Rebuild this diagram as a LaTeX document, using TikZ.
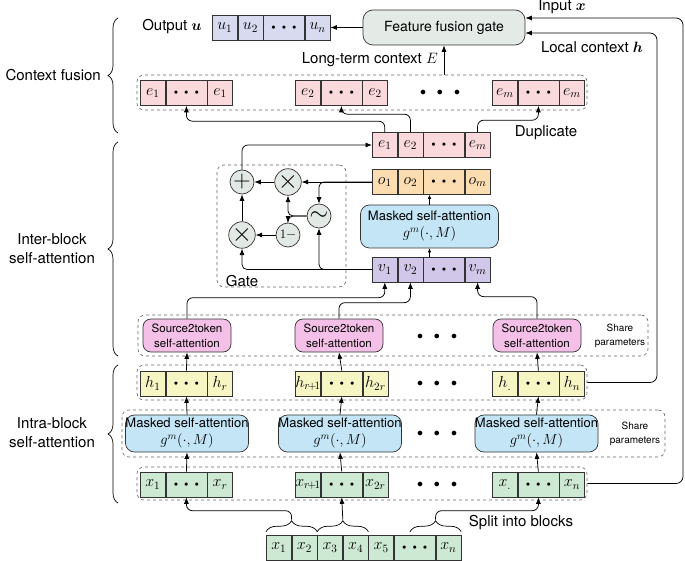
\RequirePackage{fix-cm}
\documentclass[tikz,border=0pt]{standalone}
\usepackage{amsmath}
\usepackage{fontspec}
\setmainfont{TeX Gyre Heros}
\usetikzlibrary{arrows.meta,decorations.pathreplacing,calc}

\definecolor{cU}{HTML}{D8DBF0}
\definecolor{cFG}{HTML}{E4EBE7}
\definecolor{cE}{HTML}{F9D9DC}
\definecolor{cO}{HTML}{FCDDB1}
\definecolor{cB}{HTML}{C3E5F5}
\definecolor{cV}{HTML}{D1C7E8}
\definecolor{cS}{HTML}{F4C0E8}
\definecolor{cH}{HTML}{F6F6C4}
\definecolor{cX}{HTML}{CDE8D3}
\definecolor{cG}{HTML}{E2E9E5}

\newcommand{\lblf}{\fontsize{15}{19}\selectfont}
\newcommand{\mthf}{\fontsize{16}{16}\selectfont}
\newcommand{\sdts}{{\fontsize{7.5}{8}\selectfont$\bullet$\hspace{6pt}$\bullet$\hspace{6pt}$\bullet$}}
\newcommand{\bdts}{{\fontsize{12}{12}\selectfont$\bullet$\hspace{11pt}$\bullet$\hspace{11pt}$\bullet$}}
\newcommand{\gform}{{\fontsize{14.5}{15}\selectfont$g^m(\cdot,M)$}}

\newcommand{\grp}[6]{%
 \node[cell,fill=#4,minimum width=25pt,anchor=west] (#1a) at (#2,#3) {$#5$};
 \node[cell,fill=#4,minimum width=41pt,anchor=west] (#1b) at (#1a.east) {\sdts};
 \node[cell,fill=#4,minimum width=25pt,anchor=west] (#1c) at (#1b.east) {$#6$};}
\newcommand{\frow}[7]{%
 \node[cell,fill=#4,minimum width=25pt,anchor=west] (#11) at (#2,#3) {$#5$};
 \node[cell,fill=#4,minimum width=25pt,anchor=west] (#12) at (#11.east) {$#6$};
 \node[cell,fill=#4,minimum width=41pt,anchor=west] (#13) at (#12.east) {\sdts};
 \node[cell,fill=#4,minimum width=25pt,anchor=west] (#14) at (#13.east) {$#7$};}

\tikzset{
 cell/.style={draw=black!80,line width=0.6pt,minimum height=25pt,inner sep=0pt,font=\mthf},
 arr/.style={-{Latex[length=6.5pt,width=5pt]},line width=0.75pt},
 sarr/.style={-{Latex[length=4pt,width=3.5pt]},line width=0.6pt},
 rc/.style={rounded corners=6pt},
 dbox/.style={draw=black!60,dashed,line width=0.6pt,rounded corners=7pt,inner sep=0pt},
 lbl/.style={font=\lblf,inner sep=0pt,align=center},
 fgate/.style={draw=black!80,fill=cFG,rounded corners=10pt,line width=0.7pt,minimum width=162pt,minimum height=35pt,font=\fontsize{14}{16}\selectfont},
 msab/.style={draw=black!80,fill=cB,rounded corners=9pt,line width=0.7pt,align=center,inner sep=0pt,font=\fontsize{13}{17}\selectfont},
 s2t/.style={draw=black!80,fill=cS,rounded corners=8pt,line width=0.7pt,align=center,inner sep=0pt,minimum width=88pt,minimum height=33pt,font=\fontsize{11.5}{15}\selectfont},
 shp/.style={align=center,inner sep=0pt,font=\fontsize{10}{14}\selectfont},
 gcirc/.style={circle,draw=black!80,fill=cG,minimum size=24pt,inner sep=0pt,line width=0.7pt},
 brc/.style={decorate,decoration={brace,amplitude=10pt},line width=0.7pt},
 bbrc/.style={decorate,decoration={brace,amplitude=11pt},line width=0.7pt}
}

\begin{document}
\begin{tikzpicture}[x=1pt,y=-1pt]
\useasboundingbox (0,0) rectangle (685,561);

% ---------------- Context fusion ----------------
\node[fgate] (fg) at (444,27.5) {Feature fusion gate};
\frow{u}{212}{27.5}{cU}{u_1}{u_2}{u_n}
\node[lbl] (outl) at (172,27) {Output $\boldsymbol{u}$};
\draw[arr] (fg.west) -- (u4.east);

\node[dbox,minimum width=450pt,minimum height=35pt] (ebox) at (362,92.5) {};
\grp{ga}{140}{93}{cE}{e_1}{e_1}
\grp{gb}{295}{93}{cE}{e_2}{e_2}
\grp{gc}{492}{93}{cE}{e_m}{e_m}
\node (edots) at (440,93) {\bdts};
\draw[arr] (ebox.north -| fg.south) -- (fg.south);
\node[lbl,anchor=east] (ltc) at (438,60) {Long-term context $E$};

\node[lbl] (inl) at (562,7) {Input $\boldsymbol{x}$};
\node[lbl] (lcl) at (592,47) {Local context $\boldsymbol{h}$};
\node[lbl] (dup) at (546,133) {Duplicate};

% ---------------- Inter-block ----------------
\frow{e}{372}{145}{cE}{e_1}{e_2}{e_m}
\frow{o}{372}{182}{cO}{o_1}{o_2}{o_m}
\node[msab,minimum width=138pt,minimum height=43pt] (mm) at (429.5,226.5) {Masked self-attention\\\gform};
\frow{v}{372}{269.5}{cV}{v_1}{v_2}{v_m}
\draw[sarr] (mm.north) -- (mm.north |- o1.south);
\draw[sarr] (mm.south |- v1.north) -- (mm.south);

\draw[arr,rc] (e1.north) -- ++(0,-11) -| (gab.south);
\draw[arr,rc] (e2.north) -- ++(0,-18) -| (gbb.south);
\draw[arr,rc] (e4.north) -- ++(0,-12) -| (gcb.south);

% gate
\node[dbox,minimum width=129pt,minimum height=122pt] (gbox) at (281.5,226) {};
\node[lbl] (gl) at (242,281) {Gate};
\node[gcirc] (gplus) at (242,182) {\fontsize{24}{24}\selectfont$+$};
\node[gcirc] (gt1) at (288,182) {\fontsize{26}{26}\selectfont$\times$};
\node[gcirc] (gsig) at (319,216) {\fontsize{24}{24}\selectfont$\sim$};
\node[gcirc] (gone) at (288,235) {\fontsize{13}{13}\selectfont$1-$};
\node[gcirc] (gt2) at (242,235) {\fontsize{26}{26}\selectfont$\times$};
\draw[arr] (o1.west) -- (gt1.east);
\draw[arr,rounded corners=5pt] (o1.west) -| (gsig.north);
\draw[arr,rounded corners=5pt] (gsig.west) -| (gt1.south);
\draw[arr,rounded corners=5pt] (gsig.west) -| (gone.north);
\draw[arr] (gone.west) -- (gt2.east);
\draw[arr] (gt2.north) -- (gplus.south);
\draw[arr] (gt1.west) -- (gplus.east);
\draw[arr,rc] (gplus.north) |- (e1.west);
\draw[arr,rounded corners=5pt] (v1.west) -| (gsig.south);
\draw[arr,rounded corners=5pt] (v1.west) -| (gt2.south);

% source2token
\node[dbox,minimum width=510pt,minimum height=41pt] (sbox) at (393,335.5) {};
\node[s2t] (s1) at (187,335.5) {Source2token\\self-attention};
\node[s2t] (s2) at (339,335.5) {Source2token\\self-attention};
\node[s2t] (s3) at (537,335.5) {Source2token\\self-attention};
\node (sdots) at (437,337) {\bdts};
\node[shp] (sp1) at (620,335.5) {Share\\parameters};
\draw[arr,rc] (s1.north) -- ++(0,-21) -| (v1.south);
\draw[arr,rc] (s2.north) -- ++(0,-16) -| (v2.south);
\draw[arr,rc] (s3.north) -- ++(0,-22) -| (v4.south);

% ---------------- Intra-block ----------------
\node[dbox,minimum width=450pt,minimum height=35pt] (hbox) at (362,382.5) {};
\grp{ha}{140}{383.5}{cH}{h_1}{h_r}
\grp{hb}{295}{383.5}{cH}{h_{r\!+\!1}}{h_{2r}}
\grp{hc}{492}{383.5}{cH}{h_{.}}{h_n}
\node (hdots) at (437,383.5) {\bdts};

\node[dbox,minimum width=543pt,minimum height=47pt] (mbox) at (393.5,433.5) {};
\node[msab,minimum width=120pt,minimum height=37pt] (m1) at (187,433.5) {Masked self-attention\\\gform};
\node[msab,minimum width=120pt,minimum height=37pt] (m2) at (340,433.5) {Masked self-attention\\\gform};
\node[msab,minimum width=120pt,minimum height=37pt] (m3) at (536.5,433.5) {Masked self-attention\\\gform};
\node (mdots) at (437,433.5) {\bdts};
\node[shp] (sp2) at (635,433.5) {Share\\parameters};

\node[dbox,minimum width=450pt,minimum height=33pt] (xbox) at (362,483.5) {};
\grp{xa}{140}{484.5}{cX}{x_1}{x_r}
\grp{xb}{295}{484.5}{cX}{x_{r\!+\!1}}{x_{2r}}
\grp{xc}{492}{484.5}{cX}{x_{.}}{x_n}
\node (xdots) at (437,484.5) {\bdts};

\draw[arr] (xab.north) -- (m1.south);
\draw[arr] (xbb.north) -- (m2.south);
\draw[arr] (xcb.north) -- (m3.south);
\draw[arr] (m1.north) -- (hab.south);
\draw[arr] (m2.north) -- (hbb.south);
\draw[arr] (m3.north) -- (hcb.south);
\draw[arr] (hab.north) -- (s1.south);
\draw[arr] (hbb.north) -- (s2.south);
\draw[arr] (hcb.north) -- (s3.south);

% input sequence
\node[cell,fill=cX,minimum width=25pt,anchor=west] (bx1) at (266,547.5) {$x_1$};
\node[cell,fill=cX,minimum width=25pt,anchor=west] (bx2) at (bx1.east) {$x_2$};
\node[cell,fill=cX,minimum width=25pt,anchor=west] (bx3) at (bx2.east) {$x_3$};
\node[cell,fill=cX,minimum width=25pt,anchor=west] (bx4) at (bx3.east) {$x_4$};
\node[cell,fill=cX,minimum width=25pt,anchor=west] (bx5) at (bx4.east) {$x_5$};
\node[cell,fill=cX,minimum width=41pt,anchor=west] (bxd) at (bx5.east) {\sdts};
\node[cell,fill=cX,minimum width=25pt,anchor=west] (bxn) at (bxd.east) {$x_n$};

\draw[bbrc] ([yshift=3pt]bx1.north west) -- ([yshift=3pt]bx2.north east);
\draw[bbrc] ([yshift=3pt]bx3.north west) -- ([yshift=3pt]bx4.north east);
\draw[bbrc] ([xshift=16pt,yshift=3pt]bxd.north west) -- ([yshift=3pt]bxn.north east);
\coordinate (t1) at ([yshift=15pt]bx1.north east);
\coordinate (t2) at ([yshift=15pt]bx3.north east);
\coordinate (t3) at ([yshift=15pt]bxd.north east);
\draw[arr,rc] (t1) -- ++(0,-9) -| (xab.south);
\draw[arr] (t2) -- (xbb.south);
\draw[arr,rc] (t3) -- ++(0,-9) -| (xcb.south);
\node[lbl] (split) at (521,523) {Split into blocks};

% long connectors to fusion gate
\coordinate (inr) at (683,18);
\coordinate (lcr) at (657,33);
\draw[arr,rounded corners=7pt] (xbox.east) -| (inr) -- (fg.east |- inr);
\draw[arr,rounded corners=7pt] (hbox.east) -| (lcr) -- (fg.east |- lcr);

% left braces and labels
\draw[brc] (118,133) -- (118,18);
\draw[brc] (118,356) -- (118,142);
\draw[brc] (118,503) -- (118,365);
\node[lbl,anchor=east] (cf) at (101,75) {Context fusion};
\node[lbl] (ib) at (52,249) {Inter-block\\self-attention};
\node[lbl] (ab) at (52,433) {Intra-block\\self-attention};
\end{tikzpicture}
\end{document}
